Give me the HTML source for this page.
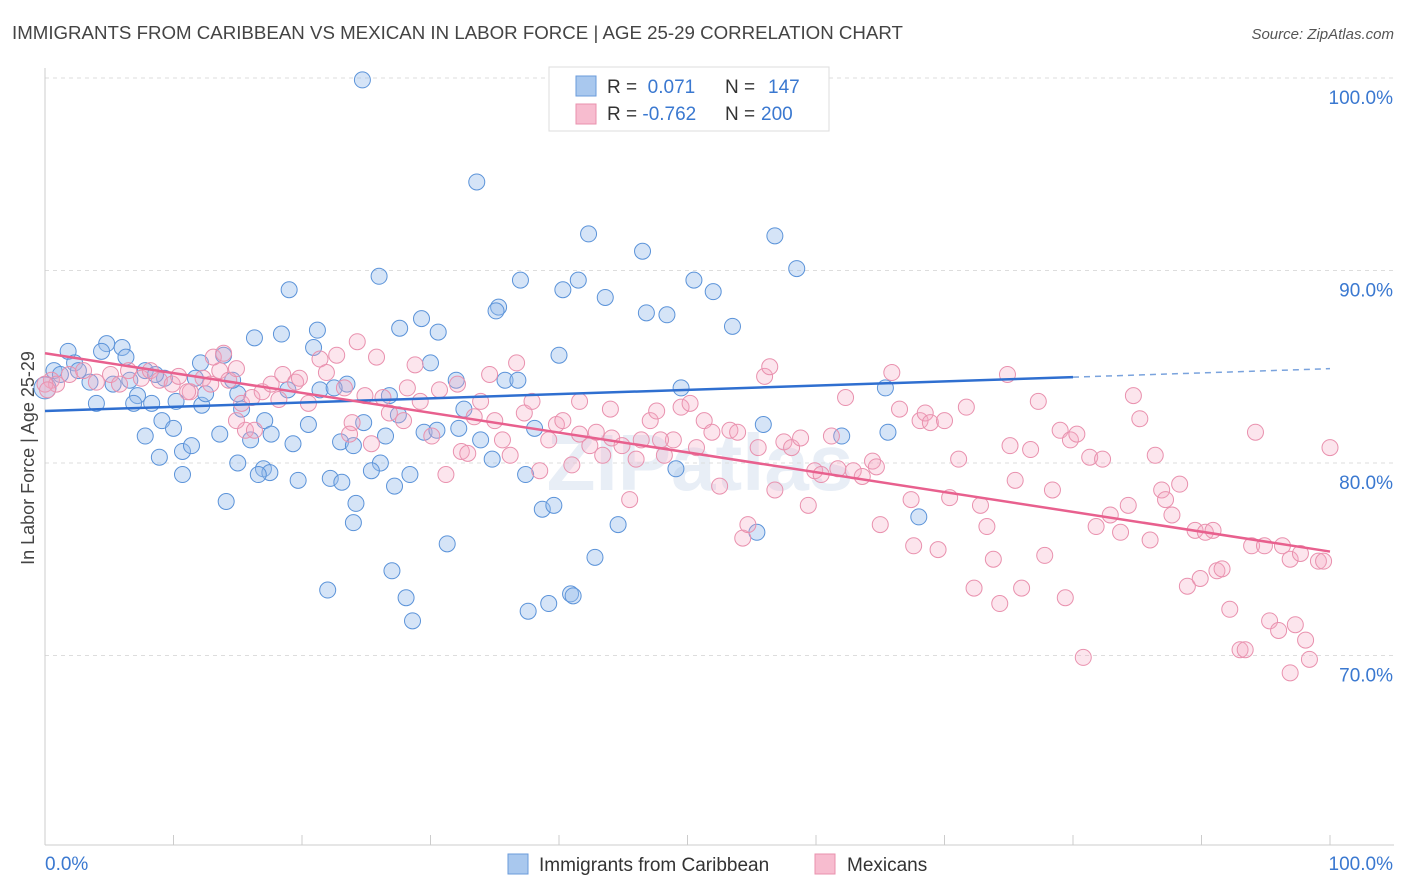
<!DOCTYPE html>
<html><head><meta charset="utf-8"><style>
html,body{margin:0;padding:0;background:#fff;}
svg{display:block;font-family:"Liberation Sans",sans-serif;}
</style></head><body>
<svg id="chart" width="1406" height="892" viewBox="0 0 1406 892">
<text x="12" y="39" font-size="18.7" fill="#444">IMMIGRANTS FROM CARIBBEAN VS MEXICAN IN LABOR FORCE | AGE 25-29 CORRELATION CHART</text>
<text x="1394" y="39" font-size="15" fill="#555" font-style="italic" text-anchor="end">Source: ZipAtlas.com</text>
<text x="0" y="0" transform="translate(34,458) rotate(-90)" font-size="18" fill="#444" text-anchor="middle">In Labor Force | Age 25-29</text>
<text x="700" y="490" font-size="80" fill="#e8eef6" text-anchor="middle" font-weight="bold">ZIPatlas</text>
<g id="grid"></g><g id="pts"></g><g id="trend"></g>
<g>
<rect x="549" y="67" width="280" height="64" fill="#fff" stroke="#ddd"/>
<rect x="576" y="76" width="20" height="20" fill="#a9c8ee" stroke="#6a9bdb"/>
<rect x="576" y="104" width="20" height="20" fill="#f7bccf" stroke="#e891ad"/>
<text x="607" y="93" font-size="19" fill="#333">R = <tspan fill="#3a78d0">&#160;0.071</tspan><tspan x="725">N = </tspan><tspan fill="#3a78d0" x="768">147</tspan></text>
<text x="607" y="120" font-size="19" fill="#333">R = <tspan fill="#3a78d0">-0.762</tspan><tspan x="725">N = </tspan><tspan fill="#3a78d0" x="761">200</tspan></text>
</g>
<g>
<rect x="508" y="854" width="20" height="20" fill="#a9c8ee" stroke="#6a9bdb"/>
<text x="539" y="871" font-size="19" fill="#333">Immigrants from Caribbean</text>
<rect x="815" y="854" width="20" height="20" fill="#f7bccf" stroke="#e891ad"/>
<text x="847" y="871" font-size="19" fill="#333">Mexicans</text>
</g>
</svg>
<script>
const yTicks=[100,90,80,70];
const yTickLabels=["100.0%","90.0%","80.0%","70.0%"];
const xTickLabels=["0.0%","100.0%"];
const blueX=[24.7,33.6,42.3,56.8,46.5,58.5,26.0,37.0,41.5,50.5,40.3,19.0,52.0,43.6,35.3,35.1,46.8,48.4,29.3,53.5,21.2,27.6,18.4,30.6,16.3,4.8,1.8,6.0,4.4,6.3,20.9,40.0,13.9,12.1,30.0,2.3,0.7,2.6,7.8,9.3,1.2,3.5,5.3,6.6,8.6,11.7,7.2,8.3,10.2,12.2,15.0,12.5,14.6,18.9,21.4,23.5,22.5,26.8,32.0,35.8,36.8,49.5,65.4,4.0,6.9,15.3,32.6,27.5,24.8,17.1,20.5,9.1,7.8,10.0,10.7,11.4,13.6,16.0,17.6,19.3,23.0,24.0,26.5,29.5,30.5,32.2,33.9,38.1,55.9,62.0,65.6,8.9,10.7,15.0,17.0,17.5,16.6,19.7,22.2,23.1,26.1,25.4,27.2,28.4,34.8,37.4,49.1,14.1,24.2,24.0,38.7,39.6,44.6,55.4,68.0,31.3,42.8,27.0,22.0,28.1,28.6,37.6,39.2,40.9,41.1,0.0];
const blueY=[99.9,94.6,91.9,91.8,91.0,90.1,89.7,89.5,89.5,89.5,89.0,89.0,88.9,88.6,88.1,87.9,87.8,87.7,87.5,87.1,86.9,87.0,86.7,86.8,86.5,86.2,85.8,86.0,85.8,85.5,86.0,85.6,85.6,85.2,85.2,85.2,84.8,84.8,84.8,84.4,84.6,84.2,84.1,84.3,84.6,84.4,83.5,83.1,83.2,83.0,83.6,83.6,84.3,83.8,83.8,84.1,83.9,83.5,84.3,84.3,84.3,83.9,83.9,83.1,83.1,82.8,82.8,82.5,82.1,82.2,82.0,82.2,81.4,81.8,80.6,80.9,81.5,81.2,81.5,81.0,81.1,80.9,81.4,81.6,81.7,81.8,81.2,81.8,82.0,81.4,81.6,80.3,79.4,80.0,79.7,79.5,79.4,79.1,79.2,79.0,80.0,79.6,78.8,79.4,80.2,79.4,79.7,78.0,77.9,76.9,77.6,77.8,76.8,76.4,77.2,75.8,75.1,74.4,73.4,73.0,71.8,72.3,72.7,73.2,73.1,83.9];
const pinkX=[0.5,0.9,1.9,3.0,4.0,5.1,5.8,6.5,7.5,8.2,8.9,9.9,10.4,11.3,12.3,12.9,13.6,14.3,14.9,13.1,13.9,15.3,15.6,16.1,16.9,17.6,18.5,19.5,19.8,20.5,21.4,21.9,22.7,23.3,23.9,24.3,24.9,25.4,25.8,26.3,26.8,27.9,28.2,28.8,29.2,30.1,30.7,31.2,32.1,32.4,32.9,33.4,33.9,34.6,35.0,35.6,36.2,36.7,37.3,37.9,38.5,39.2,39.8,40.3,41.0,41.6,42.4,42.9,43.4,44.1,44.9,45.5,46.0,46.4,47.1,47.6,48.2,48.9,49.5,50.2,50.7,51.3,51.9,52.5,53.3,53.9,54.3,54.7,55.5,56.0,56.4,56.8,57.5,58.1,58.8,59.4,59.9,60.4,61.2,61.7,62.3,62.9,63.6,64.4,65.0,65.9,66.5,67.4,67.6,68.1,68.5,68.9,69.5,70.0,70.4,71.1,71.7,72.3,72.8,73.3,73.8,74.3,74.9,75.5,76.0,76.7,77.3,77.8,78.4,79.0,79.4,79.8,80.3,80.8,81.3,81.8,82.3,82.9,83.7,84.3,84.7,85.2,86.0,86.4,86.9,87.2,87.7,88.3,88.9,89.5,89.9,90.3,90.9,91.2,91.6,92.2,93.0,93.4,93.9,94.2,94.9,95.3,96.0,96.3,96.9,97.3,97.7,98.1,98.4,99.1,99.5,100.0,96.9,75.1,64.7,47.9,44.0,41.6,23.7,18.2,14.9,16.3,11.1,0.0,0.2];
const pinkY=[84.3,84.1,84.6,84.8,84.2,84.6,84.1,84.8,84.4,84.8,84.3,84.1,84.5,83.7,84.4,84.1,84.8,84.3,84.9,85.5,85.7,83.1,81.7,83.4,83.7,84.1,84.6,84.2,84.4,83.1,85.4,84.7,85.6,83.9,82.1,86.3,83.5,81.0,85.5,83.4,82.6,82.2,83.9,85.1,83.2,81.4,83.8,79.4,84.1,80.6,80.5,82.4,83.2,84.6,82.2,81.2,80.4,85.2,82.6,83.2,79.6,81.2,82.0,82.2,79.9,83.2,80.9,81.6,80.4,81.3,80.9,78.1,80.2,81.2,82.2,82.7,80.4,81.2,82.9,83.1,80.8,82.2,81.6,78.8,81.7,81.6,76.1,76.8,80.8,84.5,85.0,78.6,81.1,80.8,81.3,77.8,79.6,79.4,81.4,79.7,83.4,79.6,79.3,80.1,76.8,84.7,82.8,78.1,75.7,82.2,82.6,82.1,75.5,82.2,78.2,80.2,82.9,73.5,77.8,76.7,75.0,72.7,84.6,79.1,73.5,80.7,83.2,75.2,78.6,81.7,73.0,81.2,81.5,69.9,80.3,76.7,80.2,77.3,76.4,77.8,83.5,82.3,76.0,80.4,78.6,78.1,77.3,78.9,73.6,76.5,74.0,76.4,76.5,74.4,74.5,72.4,70.3,70.3,75.7,81.6,75.7,71.8,71.3,75.7,75.0,71.6,75.3,70.8,69.8,74.9,74.9,80.8,69.1,80.9,79.8,81.2,82.8,81.5,81.5,83.3,82.2,81.7,83.7,84.1,83.8];
const blueTrend=[82.7,84.9];
const blueSolidEnd=[80];
const pinkTrend=[85.7,75.4];

const NS="http://www.w3.org/2000/svg";
const X0=45,X1=1330,Y100=78,PX_PER=19.25;
const xs=v=>X0+(X1-X0)*v/100;
const ys=v=>Y100+(100-v)*PX_PER;
function mk(tag,attrs,parent){const e=document.createElementNS(NS,tag);for(const k in attrs)e.setAttribute(k,attrs[k]);parent.appendChild(e);return e;}
const grid=document.getElementById('grid');
yTicks.forEach((t,i)=>{
  const l=mk('line',{x1:45,x2:1394,y1:ys(t),y2:ys(t),stroke:'#ddd','stroke-dasharray':'4,4'},grid);
  
  
  const tx=mk('text',{x:1393,y:ys(t)+26,'font-size':19,fill:'#3a78d0','text-anchor':'end'},grid);
  tx.textContent=yTickLabels[i];
  
  
});
const ax=mk('line',{x1:45,x2:1394,y1:845,y2:845,stroke:'#ccc'},grid);


const ay=mk('line',{x1:45,x2:45,y1:68,y2:845,stroke:'#ccc'},grid);


for(let i=0;i<=10;i++){
  const tk=mk('line',{x1:xs(i*10),x2:xs(i*10),y1:835,y2:845,stroke:'#ccc'},grid);
  
  
}
[[0,'start',45],[100,'end',1393]].forEach((d,i)=>{
  const t=mk('text',{x:d[2],y:870,'font-size':19,fill:'#3a78d0','text-anchor':d[1]},grid);
  t.textContent=xTickLabels[i];
  
  
});
const pts=document.getElementById('pts');
blueX.forEach((x,i)=>{
  const c=mk('circle',{cx:xs(x),cy:ys(blueY[i]),r:i===blueX.length-1?11:8,fill:'rgba(150,188,236,0.4)',stroke:'#5b93d9','stroke-width':1},pts);
  
  
});
pinkX.forEach((x,i)=>{
  const c=mk('circle',{cx:xs(x),cy:ys(pinkY[i]),r:8,fill:'rgba(245,170,195,0.3)',stroke:'#e991ae','stroke-width':1},pts);
  
  
});
const tr=document.getElementById('trend');
const bAt=x=>blueTrend[0]+(blueTrend[1]-blueTrend[0])*x/100;
const b1=mk('line',{x1:xs(0),y1:ys(bAt(0)),x2:xs(blueSolidEnd[0]),y2:ys(bAt(blueSolidEnd[0])),stroke:'#2f6fd0','stroke-width':2.5},tr);


const b2=mk('line',{x1:xs(blueSolidEnd[0]),y1:ys(bAt(blueSolidEnd[0])),x2:xs(100),y2:ys(bAt(100)),stroke:'#7aa3dd','stroke-width':1.5,'stroke-dasharray':'6,5'},tr);


const p1=mk('line',{x1:xs(0),y1:ys(pinkTrend[0]),x2:xs(100),y2:ys(pinkTrend[1]),stroke:'#e8608e','stroke-width':2.5},tr);


</script>
</body></html>
